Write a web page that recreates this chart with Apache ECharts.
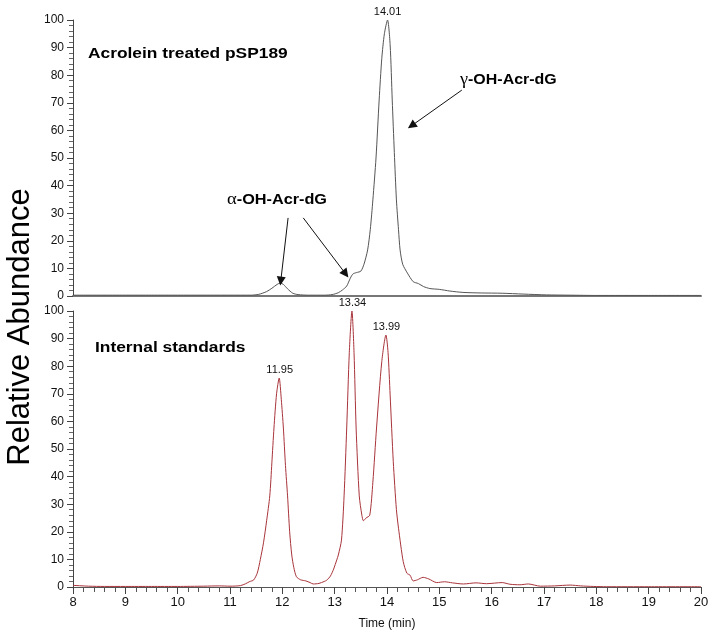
<!DOCTYPE html>
<html>
<head>
<meta charset="utf-8">
<script src="https://cdn.jsdelivr.net/npm/echarts@6.0.0/dist/echarts.min.js"></script>
<style>
  html, body { margin: 0; padding: 0; background: #fff; }
  #chart { width: 714px; height: 632px; }
</style>
</head>
<body>
<div id="chart"></div>
<script>
// top trace: acrolein treated pSP189 (time in min, relative abundance)
var topTime = [8.0, 8.5, 9.0, 9.5, 10.0, 10.5, 11.0, 11.4, 11.55, 11.7, 11.8, 11.9, 11.96, 12.02, 12.1, 12.2, 12.3, 12.5, 12.8, 12.95,
  13.07, 13.15, 13.23, 13.3, 13.35, 13.42, 13.5, 13.56, 13.63, 13.68, 13.73, 13.79, 13.85, 13.9, 13.95, 14.01, 14.06, 14.1, 14.14, 14.18,
  14.22, 14.25, 14.3, 14.39, 14.5, 14.6, 14.7, 14.82, 15.0, 15.2, 15.45, 15.8, 16.2, 16.6, 17.05, 17.5, 18.0, 19.0, 20.0]
var topAbund = [0.3, 0.3, 0.3, 0.3, 0.3, 0.3, 0.3, 0.3, 0.6, 1.6, 2.8, 4.2, 4.7, 4.2, 2.6, 1.0, 0.5, 0.3, 0.3, 0.5,
  1.2, 2.2, 3.6, 6.5, 8.0, 8.5, 9.0, 11.5, 16.7, 24, 34.8, 50, 71, 86, 95, 100, 91, 71, 52, 34.8,
  24, 16.7, 11.5, 8.3, 5.2, 4.5, 3.4, 2.7, 2.4, 1.8, 1.3, 1.1, 1.0, 0.7, 0.4, 0.3, 0.2, 0.2, 0.2]

// bottom trace: internal standards
var botTime = [8.0, 8.3, 8.6, 9.0, 9.5, 10.0, 10.5, 10.8, 11.0, 11.2, 11.3, 11.38, 11.45, 11.52, 11.58, 11.64, 11.7, 11.76, 11.8, 11.84,
  11.89, 11.94, 11.98, 12.02, 12.06, 12.1, 12.14, 12.18, 12.22, 12.27, 12.35, 12.45, 12.53, 12.59, 12.7, 12.8, 12.85, 12.92, 12.98, 13.04,
  13.07, 13.13, 13.18, 13.23, 13.28, 13.33, 13.37, 13.41, 13.47, 13.52, 13.55, 13.6, 13.67, 13.73, 13.8, 13.9, 13.98, 14.02, 14.06, 14.12,
  14.18, 14.22, 14.31, 14.38, 14.44, 14.5, 14.58, 14.69, 14.8, 14.95, 15.1, 15.25, 15.46, 15.7, 15.9, 16.2, 16.35, 16.54, 16.7, 16.93,
  17.2, 17.5, 17.7, 17.94, 18.2, 19.0, 20.0]
var botAbund = [0.6, 0.3, 0.2, 0.2, 0.2, 0.2, 0.3, 0.4, 0.3, 0.5, 1.2, 2.0, 2.5, 5, 10, 16, 24, 33, 45, 57.6,
  70, 75.7, 68, 57.6, 44, 33, 20, 11.6, 7, 3.7, 2.6, 2.2, 1.6, 1.1, 1.3, 2.0, 2.5, 4, 6.5, 9.8,
  11.6, 17, 33, 57.6, 85, 100, 85, 57.6, 33, 26, 24, 25, 26, 38, 57.6, 81.6, 91.3, 85, 69.6, 45.4,
  28, 21.3, 9.2, 5, 4.3, 2.2, 2.6, 3.5, 2.9, 1.6, 1.9, 1.5, 1.1, 1.5, 1.2, 1.6, 1.0, 0.8, 1.1, 0.3,
  0.4, 0.7, 0.4, 0.2, 0.1, 0.1, 0.1]

// labelled peaks
var topPeakT = [14.01]
var topPeakV = [100]
var botPeakT = [11.95, 13.34, 13.99]
var botPeakV = [75.7, 100, 91.3]

function zip(a, b){
  return a.map(function(v, i){ return [v, b[i]] })
}
function peaks(ts, vs){
  return ts.map(function(t, i){ return { coord: [t, vs[i]], value: t.toFixed(2) } })
}

var font = "'Liberation Sans', Arial, sans-serif"
var boldFont = "bold 14px 'Liberation Sans', Arial, sans-serif"
var greek = { g: { font: "16px 'Liberation Serif', 'DejaVu Serif', serif", fill: '#000' } }
var yAxisBase = {
  type: 'value', min: 0, max: 100, interval: 10,
  axisLine: { show: true, lineStyle: { color: '#444', width: 1 } },
  axisTick: { show: true, length: 6, lineStyle: { color: '#444' } },
  minorTick: { show: true, splitNumber: 5, length: 4, lineStyle: { color: '#666' } },
  splitLine: { show: false },
  minorSplitLine: { show: false },
  axisLabel: { color: '#111', fontSize: 12, fontFamily: font, margin: 9 }
}

var chart = echarts.init(document.getElementById('chart'))
var option = {
  animation: false,
  backgroundColor: '#fff',
  grid: [
    { left: 73, top: 20, width: 628, height: 276 },
    { left: 73, top: 311, width: 628, height: 276 }
  ],
  xAxis: [
    {
      gridIndex: 0, type: 'value', min: 8, max: 20, interval: 1,
      axisLine: { lineStyle: { color: '#777', width: 2 } },
      axisTick: { show: false }, axisLabel: { show: false }, splitLine: { show: false }
    },
    {
      gridIndex: 1, type: 'value', min: 8, max: 20, interval: 1,
      name: 'Time (min)', nameLocation: 'middle', nameGap: 31,
      nameTextStyle: { color: '#111', fontSize: 12, fontFamily: font },
      axisLine: { lineStyle: { color: '#555', width: 1 } },
      axisTick: { show: true, length: 7, lineStyle: { color: '#444' } },
      minorTick: { show: true, splitNumber: 5, length: 5, lineStyle: { color: '#555' } },
      splitLine: { show: false },
      axisLabel: { color: '#111', fontSize: 13, fontFamily: font, margin: 9 }
    }
  ],
  yAxis: [
    Object.assign({ gridIndex: 0 }, yAxisBase),
    Object.assign({ gridIndex: 1 }, yAxisBase)
  ],
  series: [
    {
      type: 'line', xAxisIndex: 0, yAxisIndex: 0,
      data: zip(topTime, topAbund),
      showSymbol: false, smooth: 0.25, silent: true,
      lineStyle: { color: '#555', width: 1 },
      markPoint: {
        symbol: 'circle', symbolSize: 0, silent: true,
        label: { show: true, position: 'top', distance: 3, color: '#111', fontSize: 11, fontFamily: font, formatter: '{c}' },
        data: peaks(topPeakT, topPeakV)
      },
      markLine: {
        silent: true, symbol: ['none', 'triangle'], symbolSize: 9,
        label: { show: false },
        lineStyle: { color: '#111', width: 1, type: 'solid' },
        emphasis: { disabled: true },
        data: [
          [{ coord: [12.11, 28.3] }, { coord: [11.97, 5.4] }],
          [{ coord: [12.40, 28.3] }, { coord: [13.21, 8.0] }],
          [{ coord: [15.43, 74.6] }, { coord: [14.47, 61.7] }]
        ]
      }
    },
    {
      type: 'line', xAxisIndex: 1, yAxisIndex: 1,
      data: zip(botTime, botAbund),
      showSymbol: false, smooth: 0.25, silent: true,
      lineStyle: { color: '#a8343a', width: 1 },
      markPoint: {
        symbol: 'circle', symbolSize: 0, silent: true,
        label: { show: true, position: 'top', distance: 3, color: '#111', fontSize: 11, fontFamily: font, formatter: '{c}' },
        data: peaks(botPeakT, botPeakV)
      }
    }
  ],
  graphic: [
    {
      type: 'text', x: 20, y: 327, rotation: Math.PI / 2,
      style: { text: 'Relative Abundance', fill: '#000', font: "31px 'Liberation Sans', Arial, sans-serif", align: 'center', verticalAlign: 'middle' }
    },
    {
      type: 'text', x: 88, y: 54, scaleX: 1.24,
      style: { text: 'Acrolein treated pSP189', fill: '#000', font: boldFont, verticalAlign: 'middle' }
    },
    {
      type: 'text', x: 95, y: 348, scaleX: 1.24,
      style: { text: 'Internal standards', fill: '#000', font: boldFont, verticalAlign: 'middle' }
    },
    {
      type: 'text', x: 227, y: 200, scaleX: 1.16,
      style: { text: '{g|α}-OH-Acr-dG', fill: '#000', font: boldFont, verticalAlign: 'middle', rich: greek }
    },
    {
      type: 'text', x: 460, y: 80, scaleX: 1.14,
      style: { text: '{g|γ}-OH-Acr-dG', fill: '#000', font: boldFont, verticalAlign: 'middle', rich: greek }
    }
  ]
}
chart.setOption(option)
</script>
</body>
</html>
